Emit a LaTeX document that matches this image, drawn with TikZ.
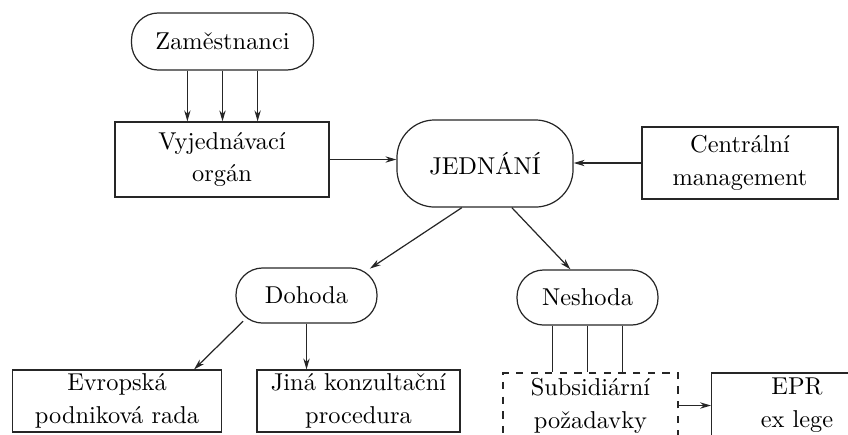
\documentclass[tikz,border=0pt]{standalone}
\usepackage{fontspec}
\usetikzlibrary{arrows.meta}

\begin{document}
\begin{tikzpicture}[
    x=0.41pt, y=-0.41pt,
    box/.style={draw, align=center, inner sep=1pt, font=\linespread{1.12}\selectfont},
    pill/.style={box, rounded corners=11pt},
    >={Stealth[length=4.5pt, width=2.6pt]}, line width=0.5pt, draw=black!85
]
  \useasboundingbox (0,0) rectangle (848,434);
  \clip (0,0) rectangle (848,434);

  \node[pill, minimum width=74.6pt, minimum height=23.4pt] (zam) at (222.5,41.5) {Zaměstnanci};
  \node[box, minimum width=87.7pt, minimum height=30.8pt] (vyj) at (222,159.5) {Vyjednávací\\orgán};
  \node[pill, rounded corners=15.5pt, minimum width=72.2pt, minimum height=35.7pt] (jed) at (485,163.5) {JEDNÁNÍ};
  \node[box, minimum width=80.4pt, minimum height=29.5pt] (cen) at (740,163) {Centrální\\management};
  \node[pill, minimum width=57.8pt, minimum height=22.6pt] (doh) at (306.5,295.5) {Dohoda};
  \node[pill, minimum width=57.8pt, minimum height=22.6pt] (nes) at (587.5,297.5) {Neshoda};
  \node[box, minimum width=86pt, minimum height=25.4pt] (evr) at (117,401) {Evropská\\podniková rada};
  \node[box, minimum width=83.2pt, minimum height=25.4pt] (jin) at (358.5,401) {Jiná konzultační\\procedura};
  \node[box, dashed, minimum width=71.8pt, minimum height=26.7pt] (sub) at (590.5,405.5) {Subsidiární\\požadavky};
  \node[box, minimum width=70pt, minimum height=26.7pt] (epr) at (797,405.5) {EPR\\ex lege};

  % three delegations
  \foreach \dx in {-14.4pt,0pt,14.4pt}
    \draw[->] ([xshift=\dx]zam.south) -- ([xshift=\dx]zam.south |- vyj.north);

  \draw[->] (vyj.east) -- (vyj.east -| jed.west);
  \draw[->] (cen.west) -- (cen.west -| jed.east);
  \draw[->] ([xshift=-9.5pt]jed.south) -- ([xshift=26pt,yshift=-0.5pt]doh.north);
  \draw[->] ([xshift=11pt]jed.south) -- ([xshift=-7pt]nes.north);

  \draw[->] ([xshift=-26pt,yshift=1pt]doh.south) -- ([xshift=31.6pt]evr.north);
  \draw[->] (doh.south) -- (doh.south |- jin.north);

  \foreach \dx in {-14.4pt,0pt,14.4pt}
    \draw ([xshift=\dx]nes.south) -- ([xshift=\dx]nes.south |- sub.north);
  \draw[->] (sub.east) -- (epr.west);
\end{tikzpicture}
\end{document}
